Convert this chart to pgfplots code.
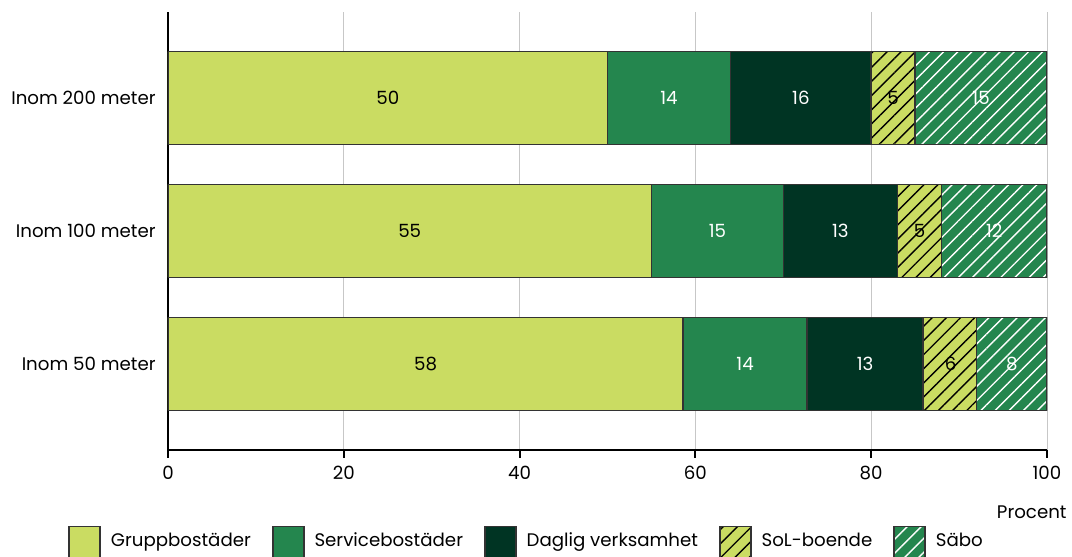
\documentclass[border=0pt]{standalone}
\usepackage{pgfplots}
\pgfplotsset{compat=1.18}
\usepackage{fontspec}
\setmainfont{Poppins}
\usetikzlibrary{patterns.meta}
\definecolor{lgreen}{HTML}{CADC62}
\definecolor{mgreen}{HTML}{24864E}
\definecolor{dgreen}{HTML}{003423}
\definecolor{edge}{HTML}{333333}
\begin{document}
\begin{tikzpicture}[font=\fontsize{9.1}{11}\selectfont]
\begin{axis}[
  at={(0,0)}, anchor=south west,
  scale only axis, width=439.5pt, height=219pt,
  xbar stacked, bar width=46.5pt,
  xmin=0, xmax=100, ymin=-0.647, ymax=2.647,
  xtick={0,20,40,60,80,100},
  ytick={0,1,2},
  yticklabels={Inom 50 meter, Inom 100 meter, Inom 200 meter},
  axis x line*=bottom, axis y line*=left,
  axis line style={line width=1pt, black},
  xmajorgrids, grid style={draw=black!22, line width=0.5pt},
  tick align=outside, major tick length=4pt,
  x tick style={line width=1pt, black},
  y tick style={draw=none},
  /pgf/number format/assume math mode=true,
  yticklabel style={inner sep=0pt, xshift=-2pt},
  xticklabel style={inner sep=0pt, yshift=-4pt},
  xlabel={Procent},
  xlabel style={at={(axis description cs:1.0227,-0.1416)}, anchor=east, inner sep=0pt},
  legend image code/.code={\draw[#1] (0pt,-9pt) rectangle (15.5pt,7.5pt);},
  legend style={at={(-0.1138,-0.2123)}, anchor=west, draw=none, fill=none, inner sep=0pt,
    /tikz/every even column/.append style={column sep=8.5pt},
    /tikz/every odd column/.append style={column sep=3pt}},
  legend columns=5, legend cell align=left,
]
\addplot[fill=lgreen, draw=edge, line width=0.8pt] coordinates {(58.6,0) (55,1) (50,2)};
\addlegendentry{Gruppbostäder}
\addplot[fill=mgreen, draw=edge, line width=0.8pt] coordinates {(14.1,0) (15,1) (14,2)};
\addlegendentry{Servicebostäder}
\addplot[fill=dgreen, draw=edge, line width=0.8pt] coordinates {(13.2,0) (13,1) (16,2)};
\addlegendentry{Daglig verksamhet}
\addplot[fill=lgreen, draw=edge, line width=0.8pt,
  postaction={pattern={Lines[angle=45,distance=5pt,line width=0.7pt]}, pattern color=black}]
  coordinates {(6.1,0) (5,1) (5,2)};
\addlegendentry{SoL-boende}
\addplot[fill=mgreen, draw=edge, line width=0.8pt,
  postaction={pattern={Lines[angle=45,distance=5pt,line width=0.7pt]}, pattern color=white}]
  coordinates {(8,0) (12,1) (15,2)};
\addlegendentry{Säbo}
\end{axis}
\begin{axis}[
  at={(0,0)}, anchor=south west,
  scale only axis, width=439.5pt, height=219pt,
  xmin=0, xmax=100, ymin=-0.647, ymax=2.647,
  axis lines=none, clip=false,
  nodes near coords, point meta=explicit symbolic,
  nodes near coords align={center},
]
\addplot[only marks, mark=text, text mark={},
  every node near coord/.append style={text=black, anchor=center, inner sep=0pt}]
  coordinates {(29.3,0) [58] (89.05,0) [6] (27.5,1) [55] (85.5,1) [5] (25,2) [50] (82.5,2) [5]};
\addplot[only marks, mark=text, text mark={},
  every node near coord/.append style={text=white, anchor=center, inner sep=0pt}]
  coordinates {(65.65,0) [14] (79.3,0) [13] (96,0) [8]
               (62.5,1) [15] (76.5,1) [13] (94,1) [12]
               (57,2) [14] (72,2) [16] (92.5,2) [15]};
\end{axis}
\pgfresetboundingbox
\useasboundingbox (-84pt,-53.5pt) rectangle (452pt,225pt);
\end{tikzpicture}
\end{document}
